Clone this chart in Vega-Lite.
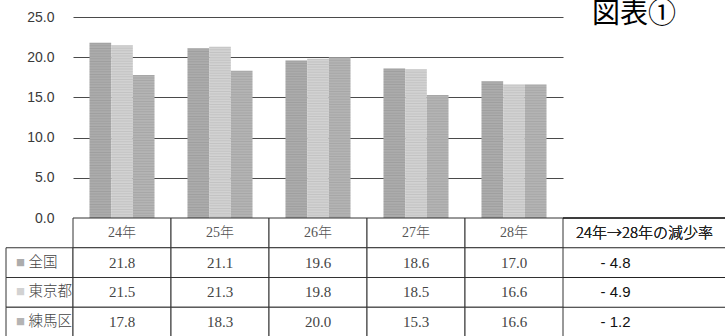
{
  "$schema": "https://vega.github.io/schema/vega-lite/v6.json",
  "background": "white",
  "padding": {"left": 5, "top": 1, "right": 0, "bottom": 0},
  "config": {
    "view": {"stroke": null},
    "font": "Liberation Sans"
  },
  "datasets": {
    "births": [
      {"year": "24年", "series": "全国", "rate": 21.8},
      {"year": "24年", "series": "東京都", "rate": 21.5},
      {"year": "24年", "series": "練馬区", "rate": 17.8},
      {"year": "25年", "series": "全国", "rate": 21.1},
      {"year": "25年", "series": "東京都", "rate": 21.3},
      {"year": "25年", "series": "練馬区", "rate": 18.3},
      {"year": "26年", "series": "全国", "rate": 19.6},
      {"year": "26年", "series": "東京都", "rate": 19.8},
      {"year": "26年", "series": "練馬区", "rate": 20.0},
      {"year": "27年", "series": "全国", "rate": 18.6},
      {"year": "27年", "series": "東京都", "rate": 18.5},
      {"year": "27年", "series": "練馬区", "rate": 15.3},
      {"year": "28年", "series": "全国", "rate": 17.0},
      {"year": "28年", "series": "東京都", "rate": 16.6},
      {"year": "28年", "series": "練馬区", "rate": 16.6}
    ],
    "change": [
      {"series": "全国", "change": -4.8},
      {"series": "東京都", "change": -4.9},
      {"series": "練馬区", "change": -1.2}
    ]
  },
  "columns": 3,
  "align": "each",
  "bounds": "flush",
  "spacing": 0,
  "concat": [
    {
      "width": 67,
      "height": 201,
      "data": {"values": []},
      "mark": "rect"
    },
    {
      "width": 490,
      "height": 201,
      "data": {"name": "births"},
      "encoding": {
        "x": {
          "field": "year", "type": "nominal", "sort": null,
          "scale": {"paddingInner": 0, "paddingOuter": 0},
          "axis": null
        },
        "xOffset": {
          "field": "series", "type": "nominal",
          "sort": ["全国", "東京都", "練馬区"],
          "scale": {"paddingInner": 0, "paddingOuter": 0.76}
        },
        "y": {
          "field": "rate", "type": "quantitative",
          "scale": {"domain": [0, 25]},
          "axis": {
            "values": [0, 5, 10, 15, 20, 25],
            "format": ".1f",
            "title": null,
            "domain": false,
            "ticks": false,
            "labelPadding": 19,
            "labelFont": "Liberation Sans",
            "labelFontSize": 14,
            "labelColor": "#3a3a3a",
            "gridColor": "#4a4a4a",
            "gridWidth": 1.2,
            "gridOpacity": 1
          }
        }
      },
      "layer": [
        {
          "mark": {"type": "bar"},
          "encoding": {
            "color": {
              "field": "series", "type": "nominal",
              "scale": {"domain": ["全国", "東京都", "練馬区"], "range": ["#acacac", "#d2d2d2", "#b4b4b4"]},
              "legend": null
            }
          }
        },
        {
          "description": "fine horizontal hatching drawn as a dashed, bar-wide rule",
          "mark": {"type": "rule", "color": "#000000", "opacity": 0.07, "strokeWidth": 21.7, "strokeDash": [1, 1.6], "strokeCap": "butt"},
          "encoding": {"y2": {"datum": 0}}
        }
      ]
    },
    {
      "width": 163,
      "height": 201,
      "title": {
        "text": "図表①",
        "anchor": "start",
        "font": "Noto Sans CJK JP",
        "fontSize": 28,
        "fontWeight": "normal",
        "color": "#000000",
        "dx": 29,
        "dy": 16
      },
      "data": {"values": []},
      "mark": "rect"
    },
    {
      "width": 67,
      "height": 119,
      "data": {"name": "change"},
      "encoding": {
        "y": {
          "field": "series", "type": "nominal",
          "scale": {"domain": ["header", "全国", "東京都", "練馬区"], "paddingInner": 0, "paddingOuter": 0},
          "axis": null
        }
      },
      "layer": [
        {"mark": {"type": "rect", "fill": "white", "stroke": "#333333", "strokeWidth": 1}},
        {
          "mark": {"type": "text", "text": "■", "fontSize": 9, "align": "center", "baseline": "middle", "dx": -19, "font": "Noto Sans CJK JP"},
          "encoding": {
            "color": {
              "field": "series", "type": "nominal",
              "scale": {"domain": ["全国", "東京都", "練馬区"], "range": ["#999999", "#c8c8c8", "#a0a0a0"]},
              "legend": null
            }
          }
        },
        {
          "mark": {"type": "text", "align": "left", "baseline": "middle", "dx": -11, "font": "Noto Sans CJK JP", "fontSize": 14.5, "fontWeight": 300, "color": "#444444"},
          "encoding": {"text": {"field": "series"}}
        }
      ]
    },
    {
      "width": 490,
      "height": 119,
      "data": {"name": "births"},
      "encoding": {
        "x": {
          "field": "year", "type": "nominal", "sort": null,
          "scale": {"paddingInner": 0, "paddingOuter": 0},
          "axis": null
        }
      },
      "layer": [
        {
          "transform": [{"aggregate": [{"op": "count", "as": "n"}], "groupby": ["year"]}],
          "mark": {"type": "rect", "fill": "white", "stroke": "#333333", "strokeWidth": 1},
          "encoding": {
            "y": {
              "datum": "header", "type": "nominal",
              "scale": {"domain": ["header", "全国", "東京都", "練馬区"], "paddingInner": 0, "paddingOuter": 0},
              "axis": null
            }
          }
        },
        {
          "mark": {"type": "rect", "fill": "white", "stroke": "#333333", "strokeWidth": 1},
          "encoding": {"y": {"field": "series", "type": "nominal"}}
        },
        {
          "transform": [{"aggregate": [{"op": "count", "as": "n"}], "groupby": ["year"]}],
          "mark": {"type": "text", "baseline": "middle", "font": "Liberation Serif, Noto Sans CJK JP", "fontSize": 14, "fontWeight": 300, "color": "#555555"},
          "encoding": {
            "y": {"datum": "header", "type": "nominal"},
            "text": {"field": "year"}
          }
        },
        {
          "mark": {"type": "text", "baseline": "middle", "font": "Liberation Serif", "fontSize": 15, "color": "#444444"},
          "encoding": {
            "y": {"field": "series", "type": "nominal"},
            "text": {"field": "rate", "format": ".1f"}
          }
        }
      ]
    },
    {
      "width": 163,
      "height": 119,
      "data": {"name": "change"},
      "transform": [{"calculate": "'- ' + format(abs(datum.change), '.1f')", "as": "label"}],
      "encoding": {
        "y": {
          "field": "series", "type": "nominal",
          "scale": {"domain": ["header", "全国", "東京都", "練馬区"], "paddingInner": 0, "paddingOuter": 0},
          "axis": null
        }
      },
      "layer": [
        {
          "mark": {"type": "rule", "color": "#222222", "strokeWidth": 1},
          "encoding": {"y": {"field": "series", "type": "nominal", "bandPosition": 0}}
        },
        {
          "mark": {"type": "rule", "color": "#222222", "strokeWidth": 1},
          "encoding": {"y": {"datum": "header", "type": "nominal", "bandPosition": 0}}
        },
        {
          "mark": {"type": "text", "text": "24年→28年の減少率", "baseline": "middle", "font": "Noto Sans CJK JP", "fontSize": 15, "fontWeight": 300, "color": "#222222"},
          "encoding": {"y": {"datum": "header", "type": "nominal"}}
        },
        {
          "mark": {"type": "text", "align": "left", "baseline": "middle", "dx": -44, "font": "Liberation Sans", "fontSize": 15, "color": "#111111"},
          "encoding": {"text": {"field": "label"}}
        }
      ]
    }
  ]
}
